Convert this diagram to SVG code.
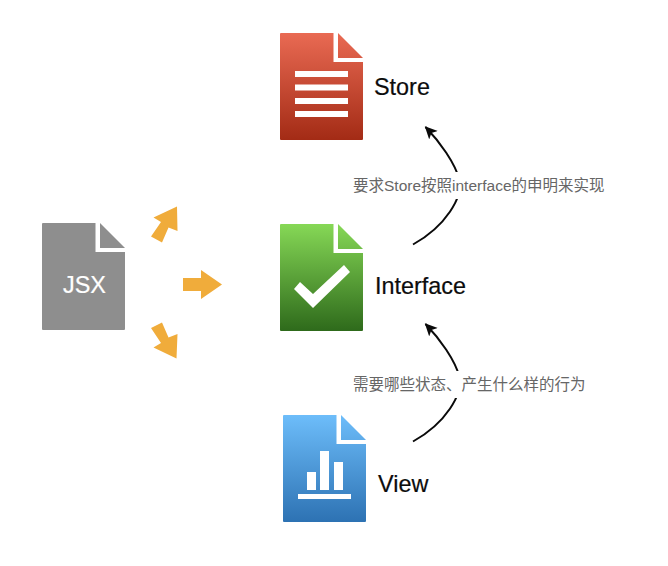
<svg xmlns="http://www.w3.org/2000/svg" width="668" height="566" viewBox="0 0 668 566">
  <style>
    .name { font-family: "Liberation Sans", Arial, sans-serif; font-size: 23.4px; fill: #0c0c0c; stroke: #0c0c0c; stroke-width: 0.2px; }
    .note { font-family: "Liberation Sans", "Noto Sans CJK SC", sans-serif; font-size: 15.5px; fill: #666; }
    .mark { fill: #fff; }
    .flow { fill: #f0ac3b; }
    .link { fill: none; stroke: #0a0a0a; stroke-width: 2; }
  </style>
  <defs>
    <!-- Page silhouette with its folded corner: origin at the page's top-left -->
    <path id="page" d="M1 0H53.500V29H83V106a1 1 0 0 1-1 1H1a1 1 0 0 1-1-1V1a1 1 0 0 1 1-1ZM58 0L83 25H58Z"/>
    <linearGradient id="red" x1="0" y1="0" x2="0" y2="1">
      <stop offset="0" stop-color="#e96a53"/><stop offset="1" stop-color="#a32b15"/>
    </linearGradient>
    <linearGradient id="green" x1="0" y1="0" x2="0" y2="1">
      <stop offset="0" stop-color="#86d856"/><stop offset="1" stop-color="#2e6a1b"/>
    </linearGradient>
    <linearGradient id="blue" x1="0" y1="0" x2="0" y2="1">
      <stop offset="0" stop-color="#6dbdfa"/><stop offset="1" stop-color="#2d72b3"/>
    </linearGradient>
    <marker id="barb" markerUnits="userSpaceOnUse" markerWidth="16" markerHeight="14" refX="11.500" refY="6.500" orient="auto">
      <path d="M12.500 6.500L0 0.500L3 6.500L0 12.500Z" fill="#0a0a0a"/>
    </marker>
  </defs>

  <rect width="668" height="566" fill="#fff"/>

  <g id="connectors">
    <path class="link" marker-end="url(#barb)" d="M413 244.500C446 226 463 197 459.500 180C455 163 440 142 425.500 127"/>
    <path class="link" marker-end="url(#barb)" d="M413 441.500C446 423 463 394 459.500 377C455 360 440 339 425.500 324"/>
  </g>

  <g id="store">
    <use href="#page" x="280" y="33" fill="url(#red)"/>
    <rect class="mark" x="295" y="71" width="53" height="6"/>
    <rect class="mark" x="295" y="84.500" width="53" height="6"/>
    <rect class="mark" x="295" y="98" width="53" height="6"/>
    <rect class="mark" x="295" y="111" width="53" height="6"/>
    <text class="name" x="374" y="95">Store</text>
  </g>

  <g id="interface">
    <use href="#page" x="280" y="224" fill="url(#green)"/>
    <path class="mark" d="M344 265L350 272L313 308L294 289L300 282L313 294Z"/>
    <text class="name" x="375" y="294">Interface</text>
  </g>

  <g id="view">
    <use href="#page" x="283" y="415" fill="url(#blue)"/>
    <rect class="mark" x="307" y="472" width="9" height="18"/>
    <rect class="mark" x="320" y="451" width="9" height="39"/>
    <rect class="mark" x="334" y="462" width="9" height="28"/>
    <rect class="mark" x="298" y="494" width="53" height="5"/>
    <text class="name" x="378" y="492">View</text>
  </g>

  <g id="jsx">
    <use href="#page" x="42" y="223" fill="#8e8e8e"/>
    <text class="name" x="63" y="293" style="fill:#fff;stroke:#fff">JSX</text>
  </g>

  <g id="flows">
    <path class="flow" d="M151 236.500L162 242.500L168.500 227.500L177.500 231L177 206.500L153.500 217.500L161 222Z"/>
    <path class="flow" d="M183 278H201V270L222 284.500L201 299V291H183Z"/>
    <path class="flow" d="M151 328L162 322.500L168.500 337.500L177.500 334L176.500 358.500L153.500 347.500L161 343Z"/>
  </g>

  <g id="notes">
    <rect x="352" y="172" width="254" height="27" fill="#fff"/>
    <text class="note" x="353" y="191">要求Store按照interface的申明来实现</text>
    <rect x="352" y="371" width="233" height="27" fill="#fff"/>
    <text class="note" x="353" y="390">需要哪些状态、产生什么样的行为</text>
  </g>
</svg>
